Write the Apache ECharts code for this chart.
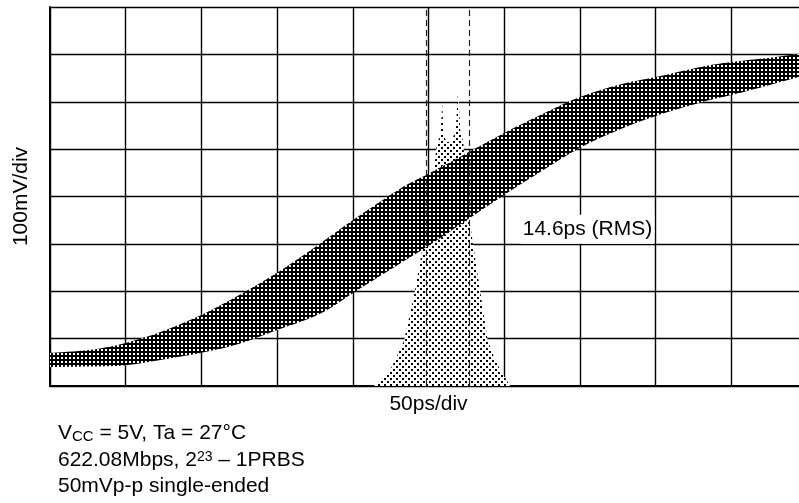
<!DOCTYPE html>
<html>
<head>
<meta charset="utf-8">
<script src="https://cdn.jsdelivr.net/npm/echarts@6/dist/echarts.min.js"></script>
<style>
html,body{margin:0;padding:0;background:#fff;}
#c{width:799px;height:503px;}
</style>
</head>
<body>
<div id="c"></div>
<script>
// Eye-diagram band (time in ps, voltage in mV)
const bandTime  = [0, 26, 50, 73, 100, 125, 150, 178, 200, 231, 250, 271, 300, 324, 350, 376, 400, 429, 450, 476, 500];
const bandUpper = [70, 76, 91, 114, 150, 192, 239, 300, 350, 416, 448, 484, 534, 572, 610, 636, 652, 673, 684, 693, 703];
const bandLower = [40, 41, 44, 55, 70, 89, 118, 152, 196, 258, 296, 341, 403, 452, 503, 541, 570, 598, 614, 636, 657];

// Jitter histogram outline (time in ps, height in mV-equivalent units)
const histTime   = [214, 217, 224, 228, 234, 241, 247, 252, 255, 256, 258, 259, 260, 262, 265, 268, 269.5, 271, 273, 275, 279, 284, 289, 294, 299, 304];
const histHeight = [0, 10, 30, 55, 97, 200, 308, 400, 498, 515, 530, 598, 530, 515, 515, 540, 621, 540, 515, 400, 308, 203, 97, 55, 25, 0];

// RMS jitter markers (ps)
const jitterMarks = [248.4, 276.7];
const jitterLabel = '14.6ps (RMS)';
const jitterLabelAt = [355, 331];

function makePattern(bg, fg, size, dots) {
  const c = document.createElement('canvas');
  c.width = size; c.height = size;
  const g = c.getContext('2d');
  g.fillStyle = bg; g.fillRect(0, 0, size, size);
  g.fillStyle = fg;
  dots.forEach(d => g.fillRect(d[0], d[1], d[2], d[3]));
  return c;
}
const bandPat = makePattern('#000', '#fff', 4, [[1,1,2,2]]);
const histPat = makePattern('#fff', '#000', 6, [[0,0,2,2],[3,3,2,2]]);

// Catmull-Rom curve through pixel points -> path commands (rendering only)
function curve(pts, start) {
  let d = (start ? 'M' : 'L') + pts[0][0] + ',' + pts[0][1];
  for (let i = 0; i < pts.length - 1; i++) {
    const p0 = pts[Math.max(i - 1, 0)], p1 = pts[i], p2 = pts[i + 1], p3 = pts[Math.min(i + 2, pts.length - 1)];
    const c1 = [p1[0] + (p2[0] - p0[0]) / 6, p1[1] + (p2[1] - p0[1]) / 6];
    const c2 = [p2[0] - (p3[0] - p1[0]) / 6, p2[1] - (p3[1] - p1[1]) / 6];
    d += 'C' + c1[0] + ',' + c1[1] + ' ' + c2[0] + ',' + c2[1] + ' ' + p2[0] + ',' + p2[1];
  }
  return d;
}

const chart = echarts.init(document.getElementById('c'), null, {renderer: 'canvas'});
const FONT = '"Liberation Sans", Arial, Helvetica, sans-serif';

chart.setOption({
  animation: false,
  backgroundColor: '#fff',
  grid: {left: 50, top: 7, right: -8, bottom: 117, outerBoundsMode: 'none', containLabel: false},
  xAxis: {
    type: 'value', min: 0, max: 500, interval: 50,
    name: '50ps/div', nameLocation: 'middle', nameGap: 8,
    nameTextStyle: {fontFamily: FONT, fontSize: 21, color: '#000', verticalAlign: 'top'},
    axisLine: {show: true, onZero: false, lineStyle: {color: '#000', width: 2}},
    axisTick: {show: false}, axisLabel: {show: false},
    splitLine: {show: true, lineStyle: {color: '#000', width: 1.4}}
  },
  yAxis: {
    type: 'value', min: 0, max: 800, interval: 100,
    name: '100mV/div', nameLocation: 'middle', nameGap: 18, nameRotate: 90,
    nameTextStyle: {fontFamily: FONT, fontSize: 21, color: '#000', verticalAlign: 'bottom'},
    axisLine: {show: true, lineStyle: {color: '#000', width: 2}},
    axisTick: {show: false}, axisLabel: {show: false},
    splitLine: {show: true, lineStyle: {color: '#000', width: 1.4}}
  },
  series: [
    {
      type: 'line', z: 2,
      data: histTime.map((t, i) => [t, histHeight[i]]),
      symbol: 'none',
      lineStyle: {width: 0},
      areaStyle: {color: {image: histPat, repeat: 'repeat'}, opacity: 1},
      markLine: {
        silent: true, symbol: 'none',
        label: {show: false},
        lineStyle: {color: '#222', width: 1.2, type: [6, 4]},
        data: jitterMarks.map(v => ({xAxis: v}))
      },
      markPoint: {
        symbol: 'rect', symbolSize: 0,
        data: [{coord: jitterLabelAt, value: jitterLabel}],
        label: {
          show: true, position: 'inside', formatter: jitterLabel,
          fontFamily: FONT, fontSize: 21, color: '#000',
          backgroundColor: '#fff', padding: [5, 2, 3, 2]
        }
      }
    },
    {
      type: 'custom', z: 3, clip: true,
      data: [0],
      renderItem: function (params, api) {
        const up = bandTime.map((t, i) => api.coord([t, bandUpper[i]]));
        const lo = bandTime.map((t, i) => api.coord([t, bandLower[i]])).reverse();
        const d = curve(up, true) + curve(lo, false) + 'Z';
        return {
          type: 'path',
          shape: {pathData: d},
          style: {fill: {image: bandPat, repeat: 'repeat'}, stroke: null}
        };
      }
    }
  ],
  graphic: [
    {
      type: 'text', left: 58, top: 423,
      style: {
        rich: {
          a: {fontFamily: FONT, fontSize: 21, fill: '#000'},
          s: {fontFamily: FONT, fontSize: 15, fill: '#000', verticalAlign: 'bottom'}
        },
        text: '{a|V}{s|CC}{a| = 5V, Ta = 27°C}'
      }
    },
    {
      type: 'text', left: 58, top: 450,
      style: {
        rich: {
          a: {fontFamily: FONT, fontSize: 21, fill: '#000'},
          p: {fontFamily: FONT, fontSize: 14, fill: '#000', verticalAlign: 'top'}
        },
        text: '{a|622.08Mbps, 2}{p|23}{a| – 1PRBS}'
      }
    },
    {
      type: 'text', left: 58, top: 476,
      style: {font: '21px ' + FONT, fill: '#000', text: '50mVp-p single-ended'}
    }
  ]
});
</script>
</body>
</html>
